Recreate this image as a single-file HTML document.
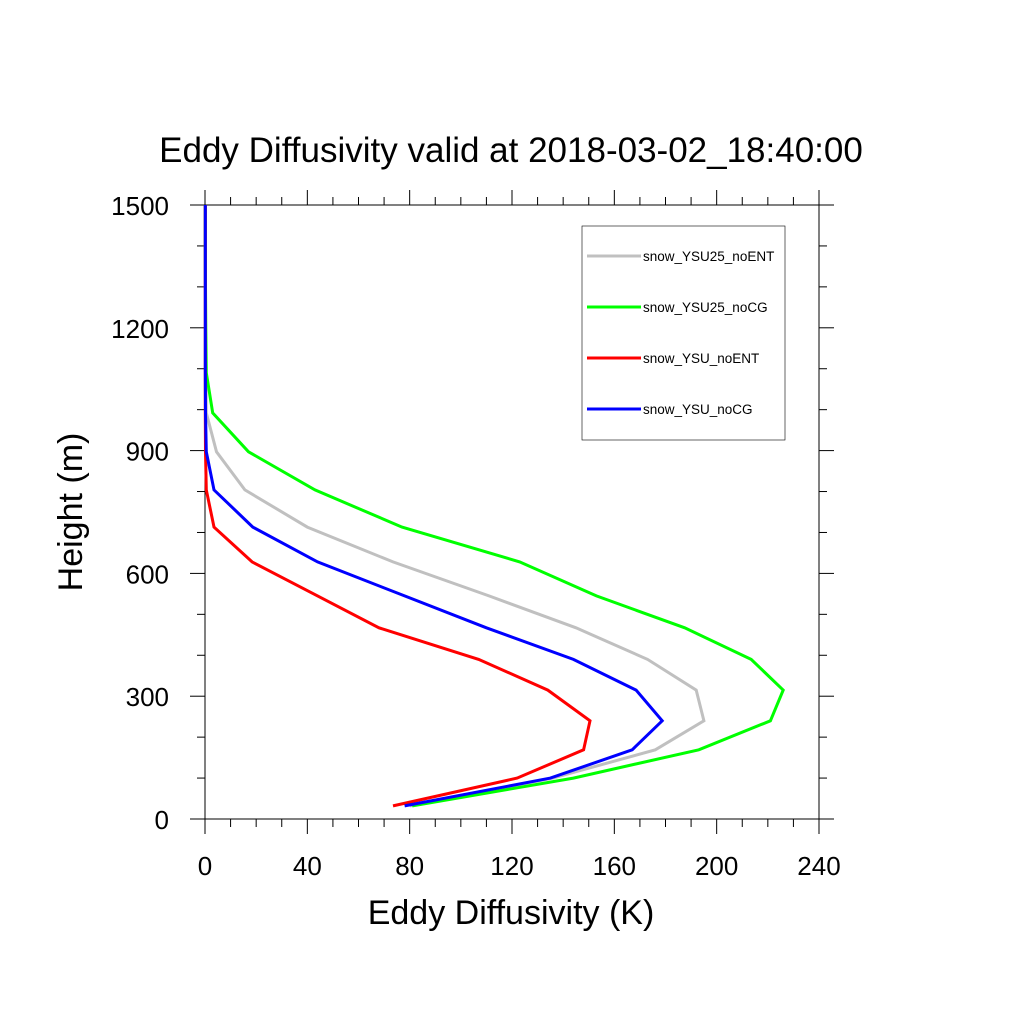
<!DOCTYPE html>
<html><head><meta charset="utf-8"><style>
html,body{margin:0;padding:0;background:#fff;}
svg{display:block;font-family:"Liberation Sans",sans-serif;}
</style></head><body>
<svg id="chart" width="1024" height="1024" viewBox="0 0 1024 1024">
<text x="511" y="162" font-size="35" text-anchor="middle">Eddy Diffusivity valid at 2018-03-02_18:40:00</text>
<g id="axes"></g>
<g id="series"></g>
<text x="511" y="924" font-size="34" text-anchor="middle">Eddy Diffusivity (K)</text>
<text x="0" y="0" font-size="34" text-anchor="middle" transform="translate(82,512) rotate(-90)">Height (m)</text>
<g id="legend"></g>
</svg>
<script>
const heights = [32,100,169,240,315,390,467,545,628,713,804,897,992,1090,1200,1300,1400,1500];
const seriesNames = ["snow_YSU25_noENT","snow_YSU25_noCG","snow_YSU_noENT","snow_YSU_noCG"];
const seriesColors = ["#c0c0c0","#00ff00","#ff0000","#0000ff"];
const ysu25NoEnt = [80,136,176,195,192,173,145,111,73.5,40,15.6,4.5,0.5,0.3,0.2,0.1,0.1,0.1];
const ysu25NoCg  = [81,144,193,221,226,213.5,187.5,153,123,77,43,17,3,0.5,0.3,0.2,0.1,0.1];
const ysuNoEnt   = [73.5,122,148,150.5,134,107,68,44,18.4,3.5,0.5,0.2,0.1,0.1,0.1,0.1,0.1,0.1];
const ysuNoCg    = [78,135,167,178.7,168.5,144,110,78,44,18.7,3.5,0.5,0.2,0.1,0.1,0.1,0.1,0.1];
const xTicks = [0,40,80,120,160,200,240];
const yTicks = [0,300,600,900,1200,1500];

const L=205,R=819,T=205,B=819;
const xs=v=>L+(v/240)*(R-L);
const ys=v=>B-(v/1500)*(B-T);
const NS="http://www.w3.org/2000/svg";
function mk(tag,attrs,parent){const e=document.createElementNS(NS,tag);for(const k in attrs)e.setAttribute(k,attrs[k]);parent.appendChild(e);return e;}
const axes=document.getElementById('axes');
const frame=mk('rect',{x:L,y:T,width:R-L,height:B-T,fill:'none',stroke:'#000','stroke-width':1},axes);


for(let v=0;v<=240;v+=10){
  const major=v%40===0, len=major?15:8, x=xs(v);
  const t1=mk('line',{x1:x,y1:B,x2:x,y2:B+len,stroke:'#000','stroke-width':1},axes);
  
  
  const t2=mk('line',{x1:x,y1:T,x2:x,y2:T-len,stroke:'#000','stroke-width':1},axes);
  
  
}
for(let v=0;v<=1500;v+=100){
  const major=v%300===0, len=major?15:8, y=ys(v);
  const t1=mk('line',{x1:L,y1:y,x2:L-len,y2:y,stroke:'#000','stroke-width':1},axes);
  
  
  const t2=mk('line',{x1:R,y1:y,x2:R+len,y2:y,stroke:'#000','stroke-width':1},axes);
  
  
}
xTicks.forEach(v=>{
  const t=mk('text',{x:xs(v),y:B+56,'font-size':26,'text-anchor':'middle'},axes);
  t.textContent=v;
  
  
});
yTicks.forEach(v=>{
  const t=mk('text',{x:L-36,y:ys(v)+10,'font-size':26,'text-anchor':'end'},axes);
  t.textContent=v;
  
  
});
const allSeries=[ysu25NoEnt,ysu25NoCg,ysuNoEnt,ysuNoCg];
const sg=document.getElementById('series');
allSeries.forEach((vals,i)=>{
  const pts=vals.map((v,j)=>xs(v).toFixed(1)+','+ys(heights[j]).toFixed(1)).join(' ');
  const p=mk('polyline',{points:pts,fill:'none',stroke:seriesColors[i],'stroke-width':3,'stroke-linejoin':'miter'},sg);
  
  
});
const lg=document.getElementById('legend');
const box=mk('rect',{x:582,y:226,width:203,height:214,fill:'#fff',stroke:'#000','stroke-width':0.6},lg);


seriesNames.forEach((n,i)=>{
  const y=256+i*51;
  const ln=mk('line',{x1:587,y1:y,x2:641,y2:y,stroke:seriesColors[i],'stroke-width':3},lg);
  
  
  const t=mk('text',{x:643,y:y+5,'font-size':13.5},lg);
  t.textContent=n;
  
  
});
</script>
</body></html>
